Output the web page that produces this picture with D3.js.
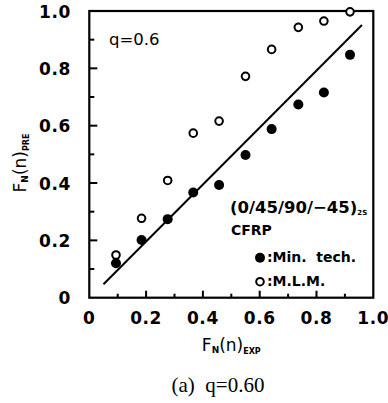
<!DOCTYPE html>
<html><head><meta charset="utf-8">
<script src="https://cdn.jsdelivr.net/npm/d3@7"></script>
<style>body{margin:0;background:#fff}svg{display:block}</style>
</head><body>
<svg id="c" width="388" height="403"></svg>
<script>
const xExp = [0.094, 0.184, 0.276, 0.366, 0.457, 0.55, 0.642, 0.736, 0.826, 0.918];
const minTech = [0.12, 0.201, 0.274, 0.367, 0.393, 0.498, 0.588, 0.674, 0.716, 0.847];
const mlm = [0.149, 0.277, 0.409, 0.574, 0.616, 0.772, 0.866, 0.943, 0.965, 0.997];
const fitX = [0.05, 0.96];
const fitY = [0.047, 0.951];
const majorTicks = [0, 0.2, 0.4, 0.6, 0.8, 1.0];
const minorTicks = [0.1, 0.3, 0.5, 0.7, 0.9];
const tickLabels = ["0", "0.2", "0.4", "0.6", "0.8", "1.0"];

const svg = d3.select("#c");
const L = 89.3, R = 373.3, T = 11, B = 297.7;
const x = d3.scaleLinear().domain([0, 1]).range([L, R]);
const y = d3.scaleLinear().domain([0, 1]).range([B, T]);
const sans = "DejaVu Sans, Liberation Sans, sans-serif";

// frame
svg.append("rect").attr("x", L).attr("y", T).attr("width", R - L).attr("height", B - T)
  .attr("fill", "none").attr("stroke", "#000").attr("stroke-width", 2.2);

// ticks (inward)
const g = svg.append("g").attr("stroke", "#000").attr("stroke-width", 2);
majorTicks.slice(1, -1).forEach(v => {
  g.append("line").attr("x1", L).attr("x2", L + 8).attr("y1", y(v)).attr("y2", y(v));
  g.append("line").attr("y1", B).attr("y2", B - 7).attr("x1", x(v)).attr("x2", x(v));
});
minorTicks.forEach(v => {
  g.append("line").attr("x1", L).attr("x2", L + 5).attr("y1", y(v)).attr("y2", y(v));
  g.append("line").attr("y1", B).attr("y2", B - 4).attr("x1", x(v)).attr("x2", x(v));
});

// tick labels
majorTicks.forEach((v, i) => {
  svg.append("text").attr("x", 71).attr("y", y(v) + 6.5).attr("text-anchor", "end")
    .attr("font-family", sans).attr("font-weight", "bold").attr("font-size", 17).attr("letter-spacing", 0.6).text(tickLabels[i]);
  svg.append("text").attr("x", x(v)).attr("y", 324).attr("text-anchor", "middle")
    .attr("font-family", sans).attr("font-weight", "bold").attr("font-size", 17).attr("letter-spacing", 0.6).text(tickLabels[i]);
});

// fit line
svg.append("path").attr("d", d3.line()(fitX.map((v, i) => [x(v), y(fitY[i])])))
  .attr("stroke", "#000").attr("stroke-width", 2).attr("fill", "none");

// points
svg.append("g").selectAll("circle").data(xExp).join("circle")
  .attr("cx", d => x(d)).attr("cy", (d, i) => y(mlm[i])).attr("r", 3.8)
  .attr("fill", "#fff").attr("stroke", "#000").attr("stroke-width", 2);
svg.append("g").selectAll("circle").data(xExp).join("circle")
  .attr("cx", d => x(d)).attr("cy", (d, i) => y(minTech[i])).attr("r", 5)
  .attr("fill", "#000");

// annotations
svg.append("text").attr("x", 109).attr("y", 45).attr("font-family", sans).attr("font-size", 16.5).text("q=0.6");
const t1 = svg.append("text").attr("x", 230).attr("y", 213).attr("font-family", sans).attr("font-size", 16.5).attr("font-weight", "bold");
t1.append("tspan").text("(0/45/90/\u221245)");
t1.append("tspan").attr("font-size", 7).attr("dy", 2).text("2S");
svg.append("text").attr("x", 231).attr("y", 235).attr("font-family", sans).attr("font-size", 14).attr("font-weight", "bold").text("CFRP");

// legend
svg.append("circle").attr("cx", 260).attr("cy", 257.7).attr("r", 5).attr("fill", "#000");
svg.append("text").attr("x", 267).attr("y", 262).attr("font-family", sans).attr("font-size", 14).attr("font-weight", "bold").attr("xml:space", "preserve").text(":Min.  tech.");
svg.append("circle").attr("cx", 260).attr("cy", 281.7).attr("r", 3.8).attr("fill", "#fff").attr("stroke", "#000").attr("stroke-width", 2);
svg.append("text").attr("x", 267).attr("y", 286).attr("font-family", sans).attr("font-size", 14).attr("font-weight", "bold").text(":M.L.M.");

// axis titles
function fLabel(sel, sub) {
  sel.attr("font-family", sans).attr("font-size", 17);
  sel.append("tspan").text("F");
  sel.append("tspan").attr("font-size", 9).attr("font-weight", "bold").attr("dy", 2).text("N");
  sel.append("tspan").attr("dy", -2).text("(n)");
  sel.append("tspan").attr("font-size", 8).attr("font-weight", "bold").attr("dy", 3).text(sub);
}
fLabel(svg.append("text").attr("x", (L + R) / 2).attr("y", 351).attr("text-anchor", "middle"), "EXP");
fLabel(svg.append("text").attr("transform", "translate(26,163) rotate(-90)").attr("text-anchor", "middle"), "PRE");

// caption
svg.append("text").attr("x", 218).attr("y", 392).attr("text-anchor", "middle")
  .attr("font-family", "Liberation Serif, Times New Roman, serif").attr("font-size", 21).attr("xml:space", "preserve").text("(a)  q=0.60");
</script>
</body></html>
